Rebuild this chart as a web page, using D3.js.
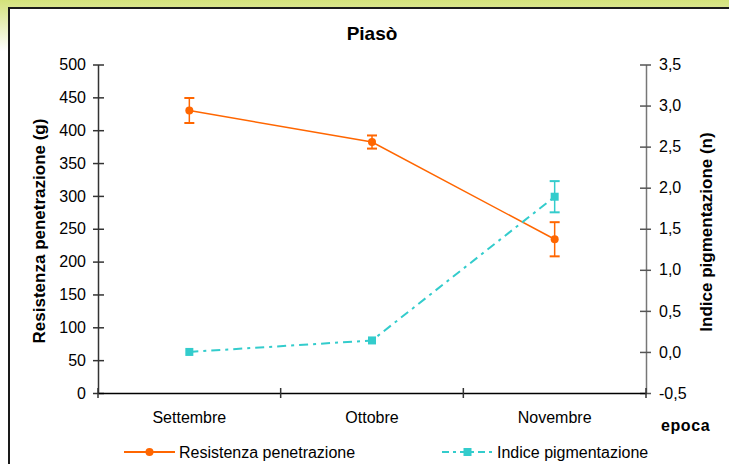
<!DOCTYPE html>
<html>
<head>
<meta charset="utf-8">
<script src="https://cdn.jsdelivr.net/npm/d3@7"></script>
<style>
  html, body { margin: 0; padding: 0; background: #fff; }
  svg { display: block; font-family: "Liberation Sans", Arial, sans-serif; }
</style>
</head>
<body>
<svg id="chart" width="729" height="464"></svg>
<script>
// data
var epoche = ["Settembre", "Ottobre", "Novembre"];
var resistenza = [430, 382, 234];
var resistenzaErr = [19, 10, 26];
var pigmentazione = [0.0, 0.14, 1.89];
var pigmentazioneErr = [0, 0, 0.19];
var leftTicks = [0, 50, 100, 150, 200, 250, 300, 350, 400, 450, 500];
var rightTicks = [-0.5, 0, 0.5, 1, 1.5, 2, 2.5, 3, 3.5];

var orange = "#ff6600";
var cyan = "#33cccc";

var svg = d3.select("#chart");

// yellow-green page background fading to white
var defs = svg.append("defs");
var grad = defs.append("linearGradient")
    .attr("id", "bg").attr("x1", 0).attr("y1", 0).attr("x2", 0).attr("y2", 1);
grad.append("stop").attr("offset", "0").attr("stop-color", "#d3e27a");
grad.append("stop").attr("offset", "0.11").attr("stop-color", "#ffffff");
svg.append("rect").attr("width", 729).attr("height", 464).attr("fill", "url(#bg)");

// chart frame, runs off the page to the right and bottom
svg.append("rect")
    .attr("x", 9).attr("y", 8).attr("width", 740).attr("height", 480)
    .attr("fill", "#fff").attr("stroke", "#1a1a1a").attr("stroke-width", 2);

var plotL = 98, plotR = 646, plotT = 64.5, plotB = 393;

var x = d3.scaleBand().domain(epoche).range([plotL, plotR]);
var yL = d3.scaleLinear().domain([0, 500]).range([plotB, plotT]);
var yR = d3.scaleLinear().domain([-0.5, 3.5]).range([plotB, plotT]);
// italian decimal comma, plain hyphen for negatives
var fmt = function(d) { return d.toFixed(1).replace(".", ","); };

// left axis
var gL = svg.append("g").attr("transform", "translate(" + plotL + ",0)")
    .call(d3.axisLeft(yL).tickValues(leftTicks).tickSizeInner(5).tickSizeOuter(0).tickPadding(7));
gL.select(".domain").attr("stroke", "#333").attr("stroke-width", 1.5);
gL.selectAll(".tick line").attr("x1", 6).attr("stroke", "#333").attr("stroke-width", 1.5);
gL.selectAll(".tick text").attr("font-size", 16).attr("fill", "#000");

// right axis
var gR = svg.append("g").attr("transform", "translate(" + plotR + ",0)")
    .call(d3.axisRight(yR).tickValues(rightTicks).tickFormat(fmt).tickSizeInner(5).tickSizeOuter(0).tickPadding(8));
gR.select(".domain").attr("stroke", "#777").attr("stroke-width", 1.5);
gR.selectAll(".tick line").attr("x1", -6).attr("stroke", "#555").attr("stroke-width", 1.5);
gR.selectAll(".tick text").attr("font-size", 16).attr("fill", "#000");

// x axis
var gX = svg.append("g").attr("transform", "translate(0," + plotB + ")")
    .call(d3.axisBottom(x).tickSize(0).tickPadding(19));
gX.select(".domain").attr("stroke", "#000").attr("stroke-width", 1.5);
gX.selectAll(".tick text").attr("font-size", 16).attr("fill", "#000");
var bounds = epoche.map(function(d) { return x(d); }).concat([plotR]);
gX.selectAll("line.sep").data(bounds).enter().append("line")
    .attr("class", "sep")
    .attr("x1", function(d) { return d; }).attr("x2", function(d) { return d; })
    .attr("y1", -5).attr("y2", 5)
    .attr("stroke", "#333").attr("stroke-width", 1.5);

var cx = function(i) { return x(epoche[i]) + x.bandwidth() / 2; };

// resistenza series
var lineL = d3.line().x(function(d, i) { return cx(i); }).y(function(d) { return yL(d); });
svg.append("path").datum(resistenza).attr("d", lineL)
    .attr("fill", "none").attr("stroke", orange).attr("stroke-width", 1.5);

// pigmentazione series
var lineR = d3.line().x(function(d, i) { return cx(i); }).y(function(d) { return yR(d); });
svg.append("path").datum(pigmentazione).attr("d", lineR)
    .attr("fill", "none").attr("stroke", cyan).attr("stroke-width", 2)
    .attr("stroke-dasharray", "9,5,3,5");

function errorBars(vals, errs, y, color) {
  var g = svg.append("g").attr("stroke", color).attr("stroke-width", 1.5);
  vals.forEach(function(v, i) {
    if (!errs[i]) return;
    var xx = cx(i), y1 = y(v + errs[i]), y2 = y(v - errs[i]);
    g.append("line").attr("x1", xx).attr("x2", xx).attr("y1", y1).attr("y2", y2);
    g.append("line").attr("x1", xx - 5).attr("x2", xx + 5).attr("y1", y1).attr("y2", y1).attr("stroke-width", 2);
    g.append("line").attr("x1", xx - 5).attr("x2", xx + 5).attr("y1", y2).attr("y2", y2).attr("stroke-width", 2);
  });
}
errorBars(resistenza, resistenzaErr, yL, orange);
errorBars(pigmentazione, pigmentazioneErr, yR, cyan);

svg.selectAll("circle.pt").data(resistenza).enter().append("circle")
    .attr("class", "pt")
    .attr("cx", function(d, i) { return cx(i); })
    .attr("cy", function(d) { return yL(d); })
    .attr("r", 4).attr("fill", orange);

svg.selectAll("rect.pt").data(pigmentazione).enter().append("rect")
    .attr("class", "pt")
    .attr("x", function(d, i) { return cx(i) - 4; })
    .attr("y", function(d) { return yR(d) - 4; })
    .attr("width", 8).attr("height", 8).attr("fill", cyan);

// titles
svg.append("text").attr("x", 372).attr("y", 40).attr("text-anchor", "middle")
    .attr("font-size", 19).attr("font-weight", "bold").text("Piasò");

svg.append("text").attr("transform", "translate(45,231) rotate(-90)")
    .attr("text-anchor", "middle").attr("font-size", 17).attr("font-weight", "bold")
    .text("Resistenza penetrazione (g)");

svg.append("text").attr("transform", "translate(712,232) rotate(-90)")
    .attr("text-anchor", "middle").attr("font-size", 17).attr("font-weight", "bold")
    .text("Indice pigmentazione (n)");

svg.append("text").attr("x", 661).attr("y", 431)
    .attr("font-size", 16).attr("font-weight", "bold").attr("letter-spacing", 0.6).text("epoca");

// legend
var legend = [
  { label: "Resistenza penetrazione", color: orange, x: 124, shape: "circle", dash: null },
  { label: "Indice pigmentazione", color: cyan, x: 442, shape: "square", dash: "7,4,3,4" }
];
legend.forEach(function(l) {
  var g = svg.append("g").attr("transform", "translate(" + l.x + ",452)");
  g.append("line").attr("x1", 0).attr("x2", 51).attr("y1", 0).attr("y2", 0)
      .attr("stroke", l.color).attr("stroke-width", 2)
      .attr("stroke-dasharray", l.dash);
  if (l.shape === "circle") {
    g.append("circle").attr("cx", 25.5).attr("cy", 0).attr("r", 4).attr("fill", l.color);
  } else {
    g.append("rect").attr("x", 21.5).attr("y", -4).attr("width", 8).attr("height", 8).attr("fill", l.color);
  }
  g.append("text").attr("x", 55).attr("y", 6).attr("font-size", 16).attr("fill", "#000").text(l.label);
});
</script>
</body>
</html>
